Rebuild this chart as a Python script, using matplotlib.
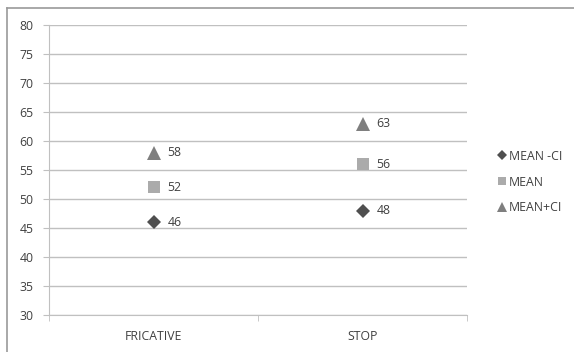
import matplotlib.pyplot as plt
from matplotlib.lines import Line2D

categories = ["FRICATIVE", "STOP"]
mean_minus_ci = [46, 48]
mean = [52, 56]
mean_plus_ci = [58, 63]
y_ticks = [30, 35, 40, 45, 50, 55, 60, 65, 70, 75, 80]

plt.rcParams["font.family"] = ["Open Sans", "DejaVu Sans"]
TXT = "#404040"
GRID = "#c0c0c0"
FS = 8.8

fig = plt.figure(figsize=(5.74, 3.52), dpi=100)
ax = fig.add_axes([49 / 574, 1 - 315 / 352, 418 / 574, 290 / 352])

series = [
    ("MEAN -CI", mean_minus_ci, "D", "#4f4f4f", 6.8),
    ("MEAN", mean, "s", "#ababab", 8.8),
    ("MEAN+CI", mean_plus_ci, "^", "#7f7f7f", 9.4),
]
xs = list(range(len(categories)))
for name, vals, mk, col, ms in series:
    ax.plot(xs, vals, linestyle="none", marker=mk, color=col, markersize=ms,
            markeredgewidth=0, zorder=3)
    for x, v in zip(xs, vals):
        ax.annotate(f"{v}", (x, v), xytext=(10, 0), textcoords="offset points",
                    va="center", ha="left", fontsize=FS, color=TXT)

ax.set_xlim(-0.5, 1.5)
ax.set_ylim(30, 80)
ax.set_yticks(y_ticks)
ax.set_xticks(xs)
ax.set_xticklabels(categories)
ax.set_xticks([-0.5, 0.5, 1.5], minor=True)
ax.tick_params(axis="x", which="major", length=0, pad=11, labelsize=FS, labelcolor=TXT)
ax.tick_params(axis="x", which="minor", length=4, color=GRID, direction="out")
ax.tick_params(axis="y", length=4, color=GRID, pad=7, labelsize=FS, labelcolor=TXT)
ax.grid(axis="y", color=GRID, linewidth=1)
ax.set_axisbelow(True)
for side in ["top", "right"]:
    ax.spines[side].set_visible(False)
ax.spines["left"].set_color(GRID)
ax.spines["bottom"].set_color(GRID)

handles = [Line2D([], [], linestyle="none", marker=mk, color=col,
                  markersize=ms * 0.72, markeredgewidth=0)
           for _, _, mk, col, ms in series]
fig.legend(handles, [s[0] for s in series], loc="center left",
           bbox_to_anchor=(492 / 574, 1 - 182 / 352), frameon=False,
           fontsize=FS, labelcolor=TXT, handlelength=0.6, handletextpad=0.3,
           labelspacing=1.05, borderpad=0)

# chart border, clipped at right and bottom
fig.add_artist(Line2D([7 / 574, 7 / 574], [0, 1 - 7.5 / 352],
                      transform=fig.transFigure, color="#9a9a9a", linewidth=1.2))
fig.add_artist(Line2D([7 / 574, 1], [1 - 7.5 / 352, 1 - 7.5 / 352],
                      transform=fig.transFigure, color="#9a9a9a", linewidth=1.2))

fig.savefig("out.png", dpi=100)
